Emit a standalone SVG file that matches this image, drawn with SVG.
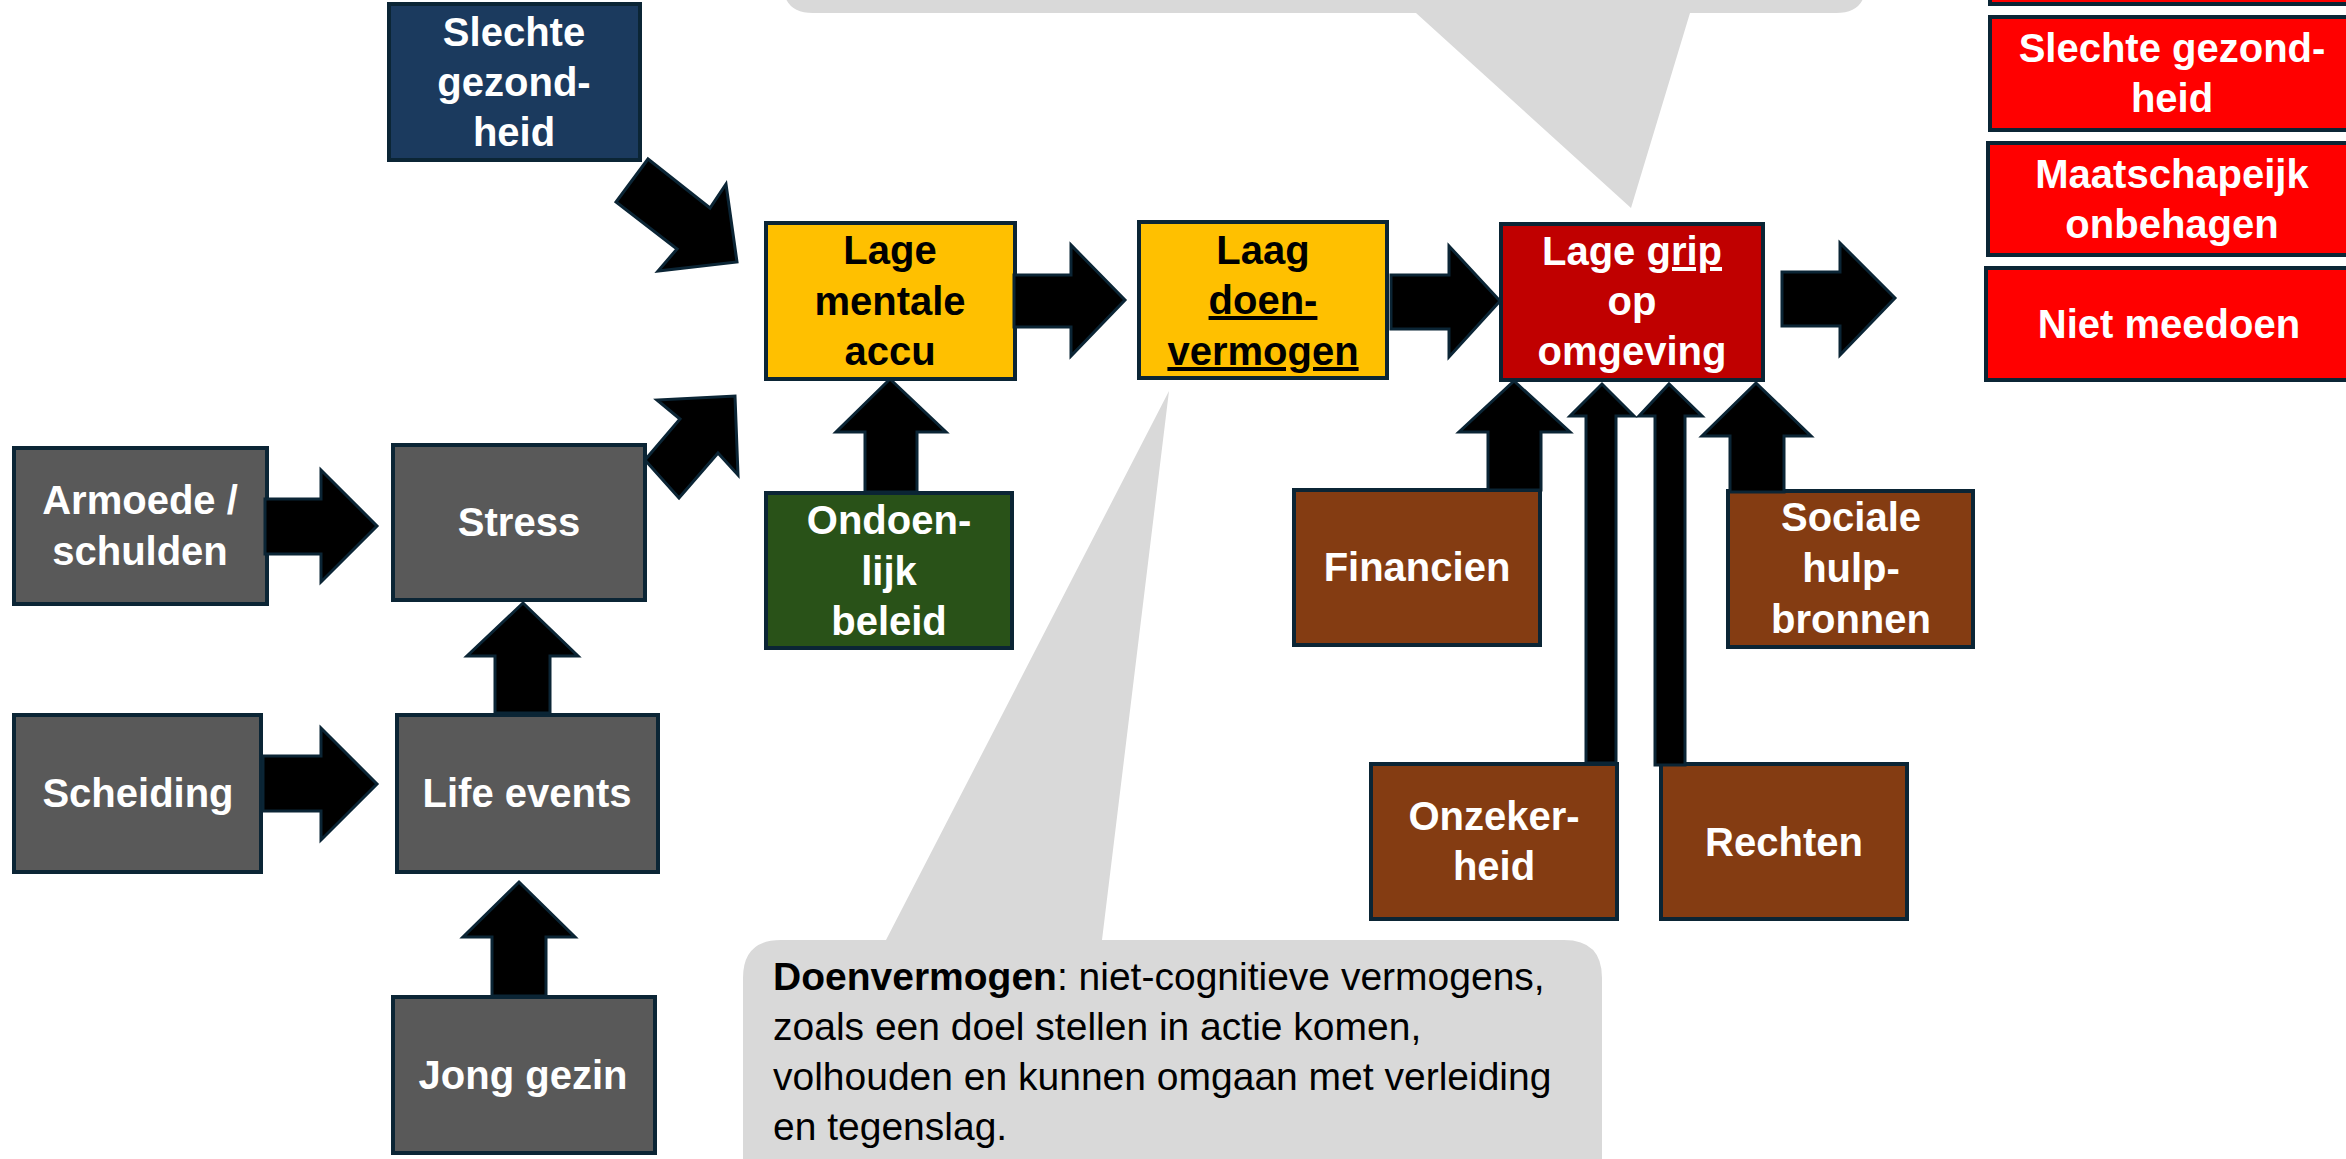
<svg xmlns="http://www.w3.org/2000/svg" width="2346" height="1159" viewBox="0 0 2346 1159">
<style>
.box{stroke:#0b2535;stroke-width:4}
.gray{fill:#595959}.blue{fill:#1b3a5e}.yel{fill:#ffc000}.green{fill:#295218}.brown{fill:#843c12}.dred{fill:#c00000}.red{fill:#ff0000}
.t{font-family:"Liberation Sans",Arial,sans-serif;font-weight:bold;font-size:40px;text-anchor:middle;fill:#ffffff}
.tb{fill:#000000}
.arr{fill:#000000;stroke:#0b2535;stroke-width:3;stroke-linejoin:miter}
.call{fill:#d9d9d9}
.ct{font-family:"Liberation Sans",Arial,sans-serif;font-size:39px;fill:#000000}
.u{text-decoration:underline}
</style>
<rect width="2346" height="1159" fill="#ffffff"/>
<g id="callout-top">
<path class="call" d="M783,-100 H1866 V-17 Q1866,13 1836,13 H1690 L1631,208 L1416,13 H813 Q783,13 783,-17 Z"/>
</g>
<g id="callout-bottom">
<path class="call" d="M781,940 H886 L1169,391 L1102,940 H1564 Q1602,940 1602,978 V1200 H743 V978 Q743,940 781,940 Z"/>
<text class="ct" x="773" y="990"><tspan font-weight="bold">Doenvermogen</tspan>: niet-cognitieve vermogens,</text>
<text class="ct" x="773" y="1040">zoals een doel stellen in actie komen,</text>
<text class="ct" x="773" y="1090">volhouden en kunnen omgaan met verleiding</text>
<text class="ct" x="773" y="1140">en tegenslag.</text>
</g>
<g id="n-slechte">
<rect class="box blue" x="389" y="4" width="251" height="156"/>
<text class="t" x="514" y="46">Slechte</text>
<text class="t" x="514" y="96">gezond-</text>
<text class="t" x="514" y="146">heid</text>
</g>
<g id="n-armoede">
<rect class="box gray" x="14" y="448" width="253" height="156"/>
<text class="t" x="140" y="514">Armoede /</text>
<text class="t" x="140" y="565">schulden</text>
</g>
<g id="n-stress">
<rect class="box gray" x="393" y="445" width="252" height="155"/>
<text class="t" x="519" y="536">Stress</text>
</g>
<g id="n-scheiding">
<rect class="box gray" x="14" y="715" width="247" height="157"/>
<text class="t" x="138" y="807">Scheiding</text>
</g>
<g id="n-life">
<rect class="box gray" x="397" y="715" width="261" height="157"/>
<text class="t" x="527" y="807">Life events</text>
</g>
<g id="n-jong">
<rect class="box gray" x="393" y="997" width="262" height="156"/>
<text class="t" x="523" y="1089">Jong gezin</text>
</g>
<g id="n-accu">
<rect class="box yel" x="766" y="223" width="249" height="156"/>
<text class="t tb" x="890" y="264">Lage</text>
<text class="t tb" x="890" y="315">mentale</text>
<text class="t tb" x="890" y="365">accu</text>
</g>
<g id="n-ondoenlijk">
<rect class="box green" x="766" y="493" width="246" height="155"/>
<text class="t" x="889" y="534">Ondoen-</text>
<text class="t" x="889" y="585">lijk</text>
<text class="t" x="889" y="635">beleid</text>
</g>
<g id="n-doen">
<rect class="box yel" x="1139" y="222" width="248" height="156"/>
<text class="t tb" x="1263" y="264">Laag</text>
<text class="t tb u" x="1263" y="314">doen-</text>
<text class="t tb u" x="1263" y="365">vermogen</text>
</g>
<g id="n-grip">
<rect class="box dred" x="1501" y="224" width="262" height="156"/>
<text class="t" x="1632" y="265">Lage <tspan class="u">grip</tspan></text>
<text class="t" x="1632" y="315">op</text>
<text class="t" x="1632" y="365">omgeving</text>
</g>
<g id="n-financien">
<rect class="box brown" x="1294" y="490" width="246" height="155"/>
<text class="t" x="1417" y="581">Financien</text>
</g>
<g id="n-sociale">
<rect class="box brown" x="1728" y="491" width="245" height="156"/>
<text class="t" x="1851" y="531">Sociale</text>
<text class="t" x="1851" y="582">hulp-</text>
<text class="t" x="1851" y="633">bronnen</text>
</g>
<g id="n-onzekerheid">
<rect class="box brown" x="1371" y="764" width="246" height="155"/>
<text class="t" x="1494" y="830">Onzeker-</text>
<text class="t" x="1494" y="880">heid</text>
</g>
<g id="n-rechten">
<rect class="box brown" x="1661" y="764" width="246" height="155"/>
<text class="t" x="1784" y="856">Rechten</text>
</g>
<g id="n-out-top">
<rect class="box red" x="1990" y="-150" width="400" height="154"/>
</g>
<g id="n-out-gezondheid">
<rect class="box red" x="1990" y="17" width="400" height="113"/>
<text class="t" x="2172" y="62">Slechte gezond-</text>
<text class="t" x="2172" y="112">heid</text>
</g>
<g id="n-out-onbehagen">
<rect class="box red" x="1988" y="143" width="400" height="112"/>
<text class="t" x="2172" y="188">Maatschapeijk</text>
<text class="t" x="2172" y="238">onbehagen</text>
</g>
<g id="n-out-meedoen">
<rect class="box red" x="1986" y="268" width="400" height="112"/>
<text class="t" x="2169" y="338">Niet meedoen</text>
</g>
<g id="connectors">
<polygon class="arr" points="265,499 321,499 321,470 377,526 321,582 321,554 265,554"/>
<polygon class="arr" points="263,756 321,756 321,728 377,784 321,840 321,811 263,811"/>
<polygon class="arr" points="1014,275 1071,275 1071,245 1125,300 1071,356 1071,327 1014,327"/>
<polygon class="arr" points="1391,275 1449,275 1449,246 1500,301 1449,357 1449,329 1391,329"/>
<polygon class="arr" points="1782,272 1840,272 1840,243 1895,298 1840,355 1840,326 1782,326"/>
<polygon class="arr" points="495,713 495,656 467,656 523,603 578,656 550,656 550,713"/>
<polygon class="arr" points="492,996 492,937 463,937 519,882 575,937 546,937 546,996"/>
<polygon class="arr" points="865,492 865,432 836,432 890,379 946,432 917,432 917,492"/>
<polygon class="arr" points="1488,490 1488,432 1459,432 1514,381 1570,432 1541,432 1541,490"/>
<polygon class="arr" points="1586,763 1586,416 1570,416 1602,384 1634,416 1616,416 1616,763"/>
<polygon class="arr" points="1655,765 1655,416 1639,416 1669,384 1702,416 1685,416 1685,765"/>
<polygon class="arr" points="1730,492 1730,436 1702,436 1756,383 1811,436 1784,436 1784,492"/>
<polygon class="arr" points="648,159 710,208 726,184 737,262 658,271 677,249 616,202"/>
<polygon class="arr" points="645,460 680,419 657,400 735,396 738,475 718,453 679,498"/>
</g>
</svg>
